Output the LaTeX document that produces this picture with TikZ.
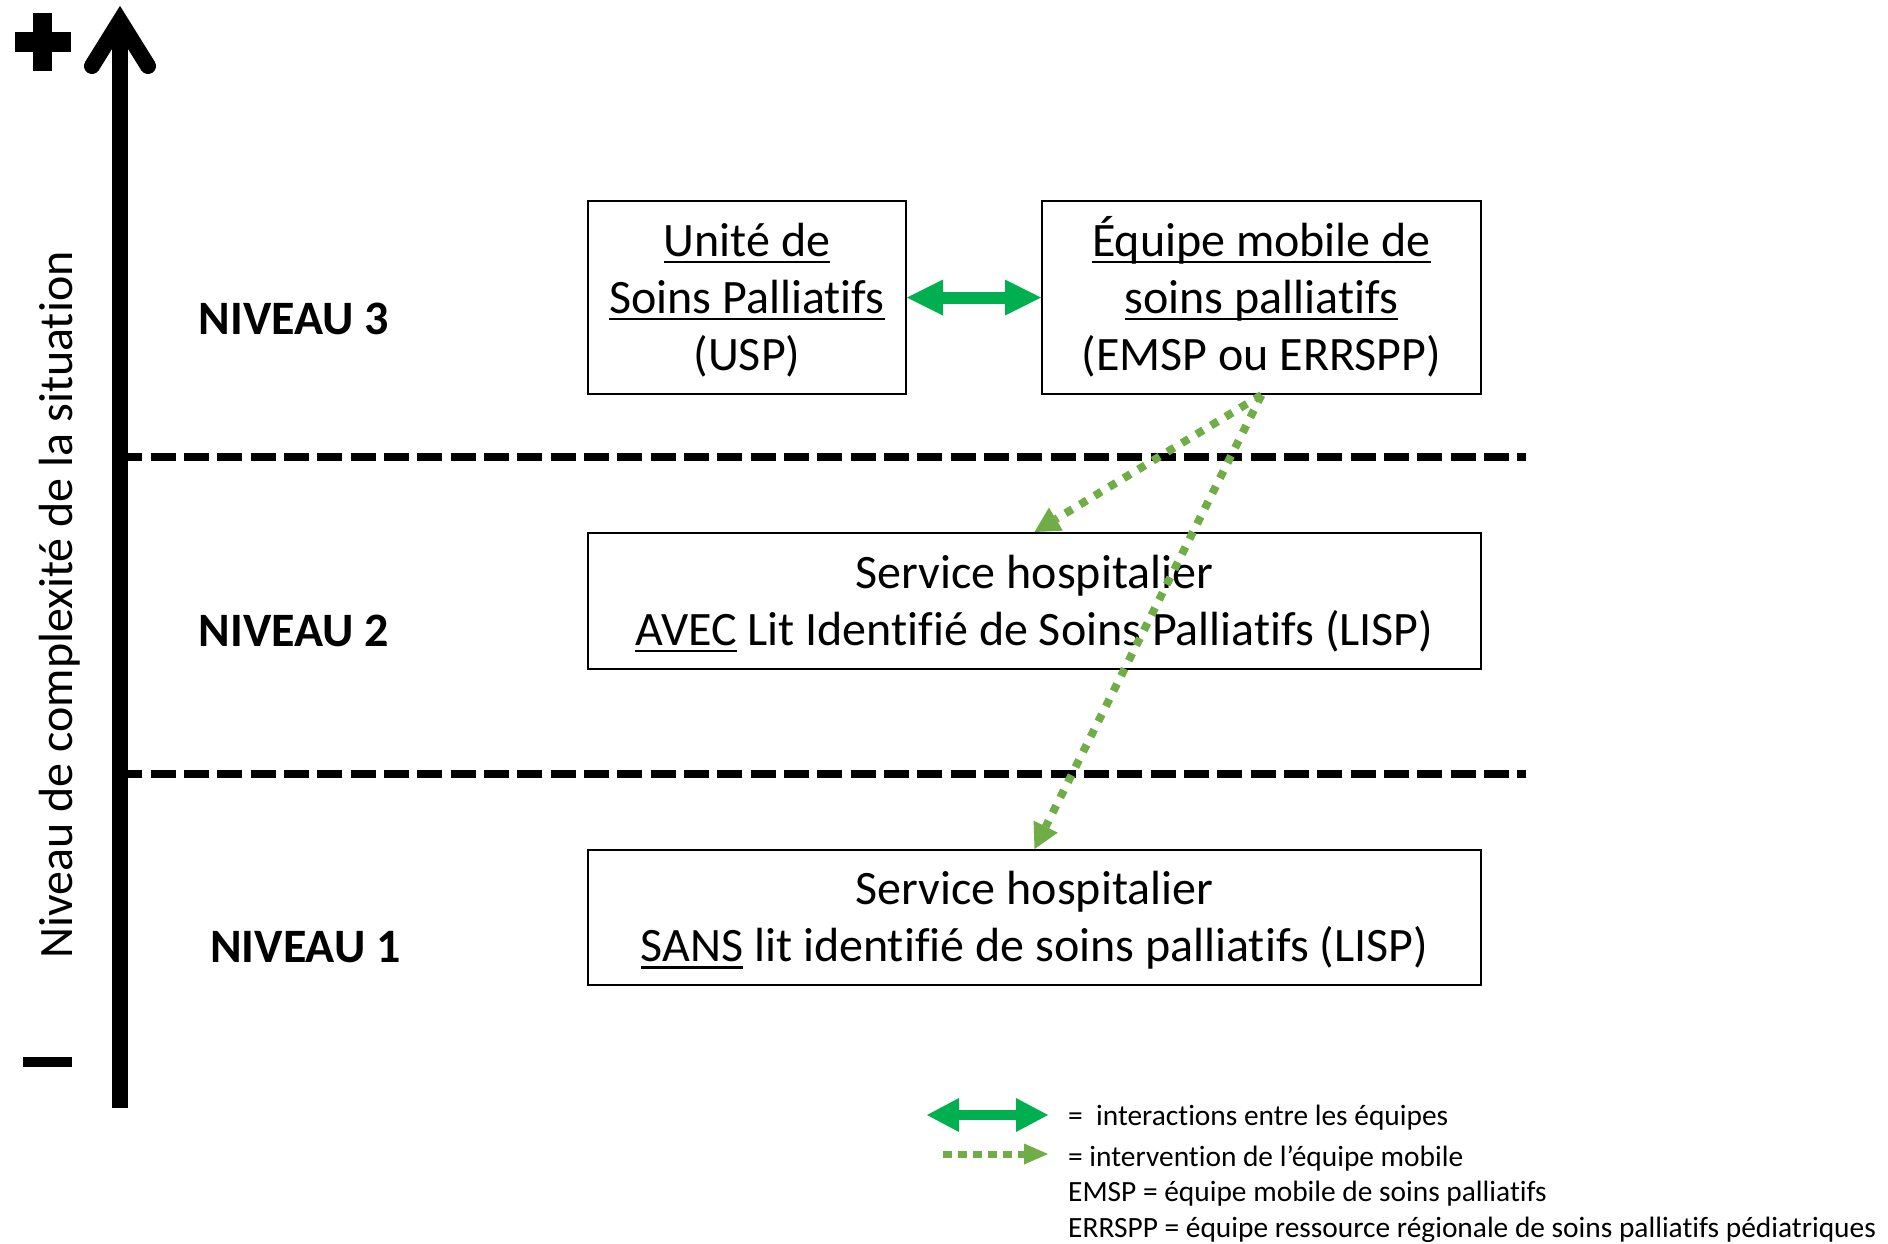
\documentclass[tikz,border=0pt]{standalone}
\usepackage{fontspec}
\setmainfont{Carlito}[Ligatures=NoCommon]
\usetikzlibrary{arrows.meta}
\definecolor{grn}{HTML}{00B050}
\definecolor{dgrn}{HTML}{70AD47}
\newcommand\ulx[1]{\setbox0\hbox{#1}\rlap{\rule[-7pt]{\wd0}{2.5pt}}\box0\relax}
\newcommand\tstr{\rule{0pt}{41pt}}
\newcommand\bstr{\rule[-10pt]{0pt}{10pt}}
\tikzset{
  box/.style={draw=black, line width=2pt, align=center, inner sep=0pt,
    font=\fontsize{48}{57}\selectfont},
  lvl/.style={font=\fontsize{48}{57}\selectfont\bfseries, anchor=base, inner sep=0pt},
  leg/.style={font=\fontsize{29.4}{35}\selectfont, anchor=base west, inner sep=0pt},
  dblarr/.style={draw=grn, line width=12pt,
    {Triangle[length=36pt,width=36pt,line width=0pt]}-{Triangle[length=36pt,width=36pt,line width=0pt]}},
  legdbl/.style={draw=grn, line width=10pt,
    {Triangle[length=32pt,width=34pt,line width=0pt]}-{Triangle[length=32pt,width=34pt,line width=0pt]}},
  dotarr/.style={draw=dgrn, line width=8pt, dash pattern=on 8pt off 9pt,
    -{Triangle[length=25pt,width=27pt,line width=0pt]}},
  legdot/.style={draw=dgrn, line width=7pt, dash pattern=on 9pt off 6pt,
    -{Triangle[length=24pt,width=21pt,line width=0pt]}},
  sepline/.style={draw=black, line width=8pt, dash pattern=on 25pt off 8.333pt},
}
\begin{document}
\begin{tikzpicture}[x=1pt,y=-1pt]
\useasboundingbox (0,0) rectangle (1888,1243);
\fill[white] (0,0) rectangle (1888,1243);

% level separators
\draw[sepline] (117.33,457) -- (1526,457);
\draw[sepline] (117.33,774) -- (1526,774);

% vertical axis
\draw[line width=16pt] (120,1108) -- (120,21);
\draw[line width=16pt, line cap=round, line join=miter] (92,66) -- (120,21) -- (148,66);
% plus / minus
\fill (15,32) rectangle (71,52);
\fill (33,13) rectangle (52,71);
\fill (23,1057) rectangle (72,1067);

\node[rotate=90, anchor=base, inner sep=0pt, font=\fontsize{48}{57}\selectfont]
  (axlabel) at (72,605) {Niveau de complexité de la situation};

% level labels
\node[lvl] (n3) at (294,334) {NIVEAU 3};
\node[lvl] (n2) at (294,646) {NIVEAU 2};
\node[lvl] (n1) at (305.5,962) {NIVEAU 1};

% boxes
\node[box, minimum width=318pt, minimum height=193pt] (usp) at (747,297.5)
  {\tstr\ulx{Unité de}\\\ulx{Soins Palliatifs}\\(USP)\bstr};
\node[box, minimum width=439pt, minimum height=193pt] (emsp) at (1261.5,297.5)
  {\tstr\ulx{Équipe mobile de}\\\ulx{soins palliatifs}\\(EMSP ou ERRSPP)\bstr};
\node[box, minimum width=893pt, minimum height=136pt] (lvl2) at (1034.5,601)
  {\tstr Service hospitalier\\\ulx{AVEC} Lit Identifié de Soins Palliatifs (LISP)\bstr};
\node[box, minimum width=893pt, minimum height=135pt] (lvl1) at (1034.5,917.5)
  {\tstr Service hospitalier\\\ulx{SANS} lit identifié de soins palliatifs (LISP)\bstr};

% connectors
\draw[dblarr] (usp.east) -- (emsp.west);
\draw[dotarr] (emsp.south) -- (lvl2.north);
\draw[dotarr] (emsp.south) -- (lvl1.north);

% legend
\coordinate (l1a) at (927,1115);
\coordinate (l1b) at (1048,1115);
\coordinate (l2a) at (943,1154);
\coordinate (l2b) at (1048,1154);
\draw[legdbl] (l1a) -- (l1b);
\draw[legdot] (l2a) -- (l2b);
\node[leg] (t1) at (1068,1125) {=~ interactions entre les équipes};
\node[leg] (t2) at (1068,1166) {= intervention de l’équipe mobile};
\node[leg] (t3) at (1068,1201) {EMSP = équipe mobile de soins palliatifs};
\node[leg] (t4) at (1068,1237) {ERRSPP = équipe ressource régionale de soins palliatifs pédiatriques};
\end{tikzpicture}
\end{document}
